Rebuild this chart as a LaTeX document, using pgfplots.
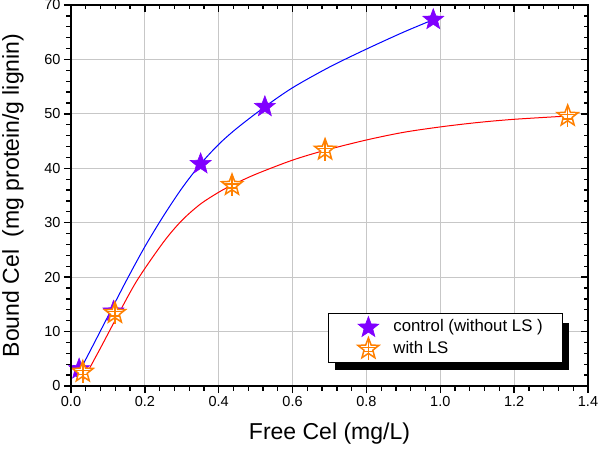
\documentclass[border=0pt]{standalone}
\usepackage{fontspec}
\setmainfont{Liberation Sans}
\usepackage{pgfplots}
\pgfplotsset{compat=1.18}
\definecolor{cpurple}{RGB}{128,0,255}
\definecolor{corange}{RGB}{255,128,0}
\pgfdeclareplotmark{fstar}{%
  \pgfpathmoveto{\pgfpointpolar{90}{\pgfplotmarksize}}%
  \pgfpathlineto{\pgfpointpolar{126}{0.42\pgfplotmarksize}}%
  \pgfpathlineto{\pgfpointpolar{162}{\pgfplotmarksize}}%
  \pgfpathlineto{\pgfpointpolar{198}{0.42\pgfplotmarksize}}%
  \pgfpathlineto{\pgfpointpolar{234}{\pgfplotmarksize}}%
  \pgfpathlineto{\pgfpointpolar{270}{0.42\pgfplotmarksize}}%
  \pgfpathlineto{\pgfpointpolar{306}{\pgfplotmarksize}}%
  \pgfpathlineto{\pgfpointpolar{342}{0.42\pgfplotmarksize}}%
  \pgfpathlineto{\pgfpointpolar{18}{\pgfplotmarksize}}%
  \pgfpathlineto{\pgfpointpolar{54}{0.42\pgfplotmarksize}}%
  \pgfpathclose
  \pgfusepathqfillstroke
}
\pgfdeclareplotmark{ostar}{%
  \pgfpathmoveto{\pgfpointpolar{90}{\pgfplotmarksize}}%
  \pgfpathlineto{\pgfpointpolar{126}{0.42\pgfplotmarksize}}%
  \pgfpathlineto{\pgfpointpolar{162}{\pgfplotmarksize}}%
  \pgfpathlineto{\pgfpointpolar{198}{0.42\pgfplotmarksize}}%
  \pgfpathlineto{\pgfpointpolar{234}{\pgfplotmarksize}}%
  \pgfpathlineto{\pgfpointpolar{270}{0.42\pgfplotmarksize}}%
  \pgfpathlineto{\pgfpointpolar{306}{\pgfplotmarksize}}%
  \pgfpathlineto{\pgfpointpolar{342}{0.42\pgfplotmarksize}}%
  \pgfpathlineto{\pgfpointpolar{18}{\pgfplotmarksize}}%
  \pgfpathlineto{\pgfpointpolar{54}{0.42\pgfplotmarksize}}%
  \pgfpathclose
  \pgfusepathqfillstroke
  \pgfpathmoveto{\pgfqpoint{0pt}{\pgfplotmarksize}}%
  \pgfpathlineto{\pgfqpoint{0pt}{-\pgfplotmarksize}}%
  \pgfpathmoveto{\pgfqpoint{-0.75\pgfplotmarksize}{0.12\pgfplotmarksize}}%
  \pgfpathlineto{\pgfqpoint{0.75\pgfplotmarksize}{0.12\pgfplotmarksize}}%
  \pgfpathmoveto{\pgfqpoint{-0.45\pgfplotmarksize}{-0.25\pgfplotmarksize}}%
  \pgfpathlineto{\pgfqpoint{0.45\pgfplotmarksize}{-0.25\pgfplotmarksize}}%
  \pgfusepathqstroke
}
\begin{document}
\begin{tikzpicture}
\begin{axis}[
  at={(0,0)}, anchor=south west,
  scale only axis, width=517bp, height=381bp,
  xmin=0, xmax=1.4, ymin=0, ymax=70,
  xtick={0,0.2,0.4,0.6,0.8,1.0,1.2,1.4},
  ytick={0,10,20,30,40,50,60,70},
  minor x tick num=4, minor y tick num=4,
  xticklabel style={/pgf/number format/.cd, fixed, fixed zerofill, precision=1},
  /pgf/number format/assume math mode=true,
  ticklabel style={font=\fontsize{14.5bp}{17bp}\selectfont},
  grid=major, major grid style={color=black!22, line width=0.8bp},
  axis line style={line width=1.8bp},
  every tick/.style={line width=1.3bp, color=black},
  major tick length=7bp, minor tick length=4.5bp,
  tick align=outside, xtick pos=bottom, ytick pos=left,
  xlabel={Free Cel (mg/L)},
  ylabel={Bound Cel\ \ (mg protein/g lignin)},
  every axis x label/.style={at={(axis description cs:0.5,-0.125)}, anchor=center, font=\fontsize{23bp}{27bp}\selectfont},
  every axis y label/.style={at={(axis description cs:-0.1122,0.5)}, anchor=center, rotate=90, font=\fontsize{23bp}{27bp}\selectfont},
  legend cell align=left,
  legend image code/.code={\draw[mark repeat=2,mark phase=2,#1] plot coordinates {(0cm,0cm) (0.3cm,0cm) (0.6cm,0cm)};},
  legend style={at={(axis description cs:0.497,0.0596)}, anchor=south west,
    draw=black, line width=1bp, fill=white,
    inner xsep=29.5bp, inner ysep=3bp, column sep=14.5bp,
    nodes={inner xsep=0bp, inner ysep=2.5bp, text height=12bp, text depth=3.5bp},
    font=\fontsize{16.8bp}{20bp}\selectfont},
]
\fill[black] (rel axis cs:0.5106,0.0412) rectangle (rel axis cs:0.9627,0.1661);
\addplot[color=blue, line width=1bp, smooth, forget plot] coordinates {
(0.015,1.7) (0.05,6.2) (0.1,12.8) (0.151,19.5) (0.2,25.6) (0.25,31.2) (0.3,36.3) (0.351,40.8) (0.4,44.4) (0.45,47.4) (0.525,51.3) (0.6,54.8) (0.7,58.6) (0.8,61.9) (0.9,65.0) (0.981,67.3)};
\addplot[color=red, line width=1bp, smooth, forget plot] coordinates {
(0.033,1.1) (0.08,7.0) (0.119,12.0) (0.178,19.3) (0.25,26.4) (0.3,30.4) (0.35,33.4) (0.4,35.6) (0.436,36.9) (0.5,38.9) (0.6,41.5) (0.688,43.3) (0.8,45.2) (0.9,46.6) (1.0,47.6) (1.1,48.4) (1.2,49.0) (1.345,49.6)};
\addplot[only marks, mark=fstar, mark size=11bp, mark options={draw=cpurple, fill=cpurple, line width=0.6bp}] coordinates {
(0.022,3.1) (0.115,13.7) (0.351,40.8) (0.525,51.3) (0.981,67.3)};
\addlegendentry{control (without LS )\kern-9.8bp}
\addplot[only marks, mark=ostar, mark size=11bp, mark options={draw=corange, fill=white, line width=1.5bp}] coordinates {
(0.032,2.6) (0.119,13.4) (0.436,36.9) (0.688,43.4) (1.345,49.6)};
\addlegendentry{with LS}
\end{axis}
\begin{axis}[
  at={(0,0)}, anchor=south west,
  scale only axis, width=517bp, height=381bp,
  xmin=0, xmax=1.4, ymin=0, ymax=70,
  xtick={0,0.2,0.4,0.6,0.8,1.0,1.2,1.4},
  ytick={0,10,20,30,40,50,60,70},
  minor x tick num=4, minor y tick num=4,
  xticklabels={}, yticklabels={},
  axis line style={line width=1.8bp},
  every tick/.style={line width=1.3bp, color=black},
  major tick length=7bp, minor tick length=4.5bp,
  tick align=inside, xtick pos=top, ytick pos=right,
]
\end{axis}
\pgfresetboundingbox
\path[use as bounding box] (-71bp,-68bp) rectangle (529bp,386bp);
\end{tikzpicture}
\end{document}
